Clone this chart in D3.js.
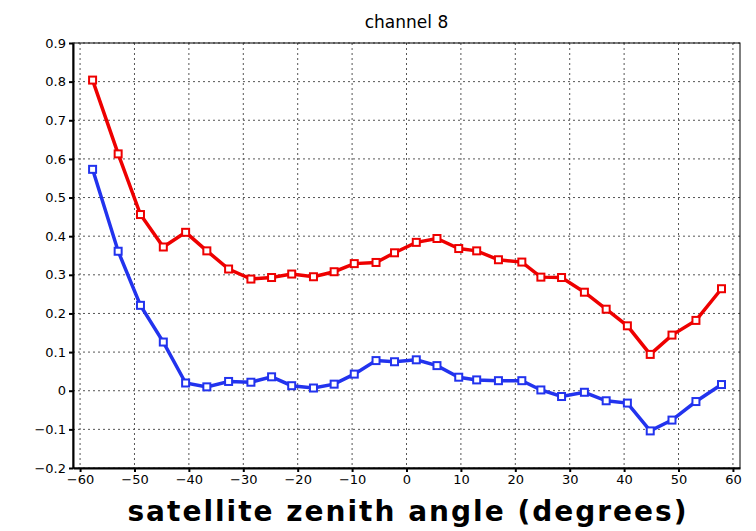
<!DOCTYPE html>
<html><head><meta charset="utf-8">
<script src="https://cdn.jsdelivr.net/npm/d3@7"></script>
<style>body{margin:0;background:#fff}</style>
</head><body><div id="chart"></div>
<script>
// scan angles
var angles = [-57.7,-53,-48.9,-44.7,-40.6,-36.7,-32.7,-28.6,-24.8,-21.1,-17.1,-13.3,-9.6,-5.6,-2.2,
  1.8,5.6,9.6,12.9,16.9,21.2,24.7,28.5,32.7,36.7,40.6,44.8,48.8,53.2,57.9];
var redValues = [0.804,0.613,0.456,0.372,0.41,0.362,0.315,0.289,0.293,0.302,0.295,0.308,0.329,0.332,0.357,
  0.384,0.394,0.368,0.362,0.339,0.333,0.294,0.293,0.255,0.211,0.168,0.094,0.144,0.182,0.264];
var blueValues = [0.573,0.361,0.221,0.126,0.02,0.01,0.024,0.022,0.036,0.013,0.007,0.017,0.043,0.078,0.075,
  0.08,0.065,0.035,0.028,0.026,0.026,0.002,-0.015,-0.004,-0.026,-0.032,-0.104,-0.076,-0.028,0.016];
var xTicks = [-60,-50,-40,-30,-20,-10,0,10,20,30,40,50,60];
var yTicks = [-0.2,-0.1,0,0.1,0.2,0.3,0.4,0.5,0.6,0.7,0.8,0.9];

var svgWidth = 756, svgHeight = 531;
var margin = {top: 43, right: 16, bottom: 63, left: 73};
var width = svgWidth - margin.left - margin.right;
var height = svgHeight - margin.top - margin.bottom;

var svg = d3.select("#chart").append("svg")
  .attr("width", svgWidth).attr("height", svgHeight);
var g = svg.append("g").attr("transform", `translate(${margin.left}, ${margin.top})`);

var x = d3.scaleLinear().domain([-61.3, 61.3]).range([0, width]);
var y = d3.scaleLinear().domain([-0.2, 0.9]).range([height, 0]);

// dotted grid
g.selectAll(".gx").data(xTicks).enter().append("line")
  .attr("x1", d => x(d)).attr("x2", d => x(d)).attr("y1", 0).attr("y2", height)
  .attr("stroke", "#555").attr("stroke-dasharray", "2,3");
g.selectAll(".gy").data(yTicks).enter().append("line")
  .attr("x1", 0).attr("x2", width).attr("y1", d => y(d)).attr("y2", d => y(d))
  .attr("stroke", "#555").attr("stroke-dasharray", "2,3");

var fmtY = d => d === 0 ? "0" : d3.format(".1f")(d).replace("-", "\u2212");
var fmtX = d => String(d).replace("-", "\u2212");

var bottomAxis = g.append("g").attr("transform", `translate(0, ${height})`)
  .call(d3.axisBottom(x).tickValues(xTicks).tickFormat(fmtX).tickSizeInner(4).tickSizeOuter(0));
var leftAxis = g.append("g")
  .call(d3.axisLeft(y).tickValues(yTicks).tickFormat(fmtY).tickSizeInner(4).tickSizeOuter(0));
[bottomAxis, leftAxis].forEach(function(a) {
  a.selectAll("path,line").attr("stroke", "#000").attr("stroke-width", 2);
  a.selectAll("text").attr("font-family", "DejaVu Sans").attr("font-size", 13).attr("fill", "#000");
});
g.append("rect").attr("width", width).attr("height", height)
  .attr("fill", "none").attr("stroke", "#000").attr("stroke-width", 1);

var line = d3.line().x((d, i) => x(angles[i])).y(d => y(d));

function drawSeries(vals, color) {
  g.append("path").datum(vals).attr("d", line)
    .attr("fill", "none").attr("stroke", color).attr("stroke-width", 3.5);
  g.selectAll(null).data(vals).enter().append("rect")
    .attr("x", (d, i) => x(angles[i]) - 3.5).attr("y", d => y(d) - 3.5)
    .attr("width", 7).attr("height", 7)
    .attr("fill", "#fff").attr("stroke", color).attr("stroke-width", 2);
}
drawSeries(redValues, "#ee0000");
drawSeries(blueValues, "#2233ee");

svg.append("text").attr("x", margin.left + width / 2).attr("y", 28)
  .attr("text-anchor", "middle").attr("font-family", "DejaVu Sans").attr("font-size", 17)
  .text("channel 8");
svg.append("text").attr("x", 408).attr("y", 521)
  .attr("text-anchor", "middle").attr("font-family", "DejaVu Sans").attr("font-weight", "bold")
  .attr("font-size", 28).attr("letter-spacing", 2)
  .text("satellite zenith angle (degrees)");
</script></body></html>
